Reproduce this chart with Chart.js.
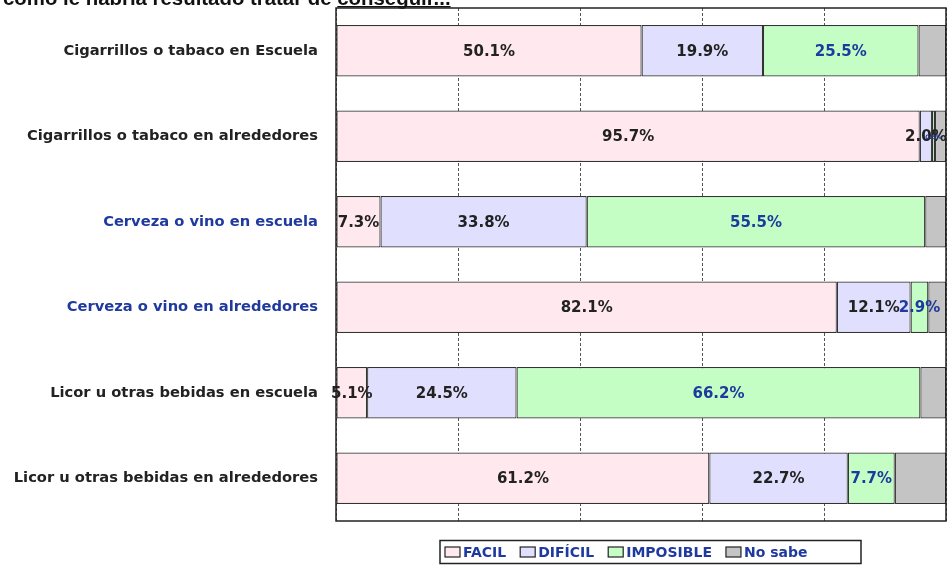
<!DOCTYPE html>
<html>
<head>
<meta charset="utf-8">
<script src="https://cdn.jsdelivr.net/npm/chart.js@4"></script>
<style>
  html, body { margin: 0; padding: 0; background: #fff; }
  #wrap { width: 948px; height: 575px; position: relative; }
</style>
</head>
<body>
<div id="wrap"><canvas id="chart" width="948" height="575"></canvas></div>
<script>
const categories = [
    'Cigarrillos o tabaco en Escuela',
    'Cigarrillos o tabaco en alrededores',
    'Cerveza o vino en escuela',
    'Cerveza o vino en alrededores',
    'Licor u otras bebidas en escuela',
    'Licor u otras bebidas en alrededores'
];
const categoryColors = ['#222222', '#222222', '#1f3a9e', '#1f3a9e', '#222222', '#222222'];

const seriesNames = ['FACIL', 'DIFÍCIL', 'IMPOSIBLE', 'No sabe'];
const facil = [50.1, 95.7, 7.3, 82.1, 5.1, 61.2];
const dificil = [19.9, 2.0, 33.8, 12.1, 24.5, 22.7];
const imposible = [25.5, 0.5, 55.5, 2.9, 66.2, 7.7];
const noSabe = [4.5, 1.8, 3.4, 2.9, 4.2, 8.4];

const fills = ['#ffe9ee', '#e0e0fe', '#c4fec4', '#c4c4c4'];
const labelColors = ['#222222', '#222222', '#1f3a9e', null];
const titleText = 'como le habría resultado tratar de ';
const titleUnderlined = 'conseguir...';

const boxPlugin = {
    id: 'box',
    beforeDraw(chart) {
        const ctx = chart.ctx;
        ctx.save();
        ctx.fillStyle = '#fff';
        ctx.fillRect(0, 0, chart.width, chart.height);
        // title, cut off at the top like the original
        ctx.font = 'bold 20.4px "Liberation Sans", Arial, sans-serif';
        ctx.fillStyle = '#111';
        ctx.textBaseline = 'alphabetic';
        ctx.fillText(titleText, 3, 5);
        const w1 = ctx.measureText(titleText).width;
        ctx.fillText(titleUnderlined, 3 + w1, 5);
        const w2 = ctx.measureText(titleUnderlined).width;
        ctx.fillRect(3 + w1, 6, w2, 1.5);
        ctx.restore();
    },
    afterDatasetsDraw(chart) {
        const ctx = chart.ctx;
        const a = chart.chartArea;
        ctx.save();
        // value labels
        ctx.textAlign = 'center';
        ctx.textBaseline = 'middle';
        chart.data.datasets.forEach((ds, di) => {
            if (!labelColors[di]) return;
            const meta = chart.getDatasetMeta(di);
            meta.data.forEach((bar, i) => {
                const v = ds.data[i];
                ctx.font = v < 1 ? 'bold 6px "DejaVu Sans", sans-serif' : 'bold 15px "DejaVu Sans", sans-serif';
                ctx.fillStyle = labelColors[di];
                ctx.fillText(v.toFixed(1) + '%', (bar.x + bar.base) / 2, bar.y + 1);
            });
        });
        // plot frame
        ctx.strokeStyle = '#222';
        ctx.lineWidth = 1.5;
        ctx.strokeRect(a.left, a.top, a.right - a.left, a.bottom - a.top);
        ctx.restore();
    },
    afterDraw(chart) {
        const ctx = chart.ctx;
        ctx.save();
        ctx.font = 'bold 14px "DejaVu Sans", sans-serif';
        const sw = 15, sh = 10, gap = 3, spacing = 14;
        const cy = 552;
        ctx.strokeStyle = '#222';
        ctx.lineWidth = 1.5;
        ctx.strokeRect(440, cy - 11.5, 421, 23);
        let x = 445;
        ctx.textBaseline = 'middle';
        seriesNames.forEach((n, i) => {
            ctx.fillStyle = fills[i];
            ctx.fillRect(x, cy - sh / 2, sw, sh);
            ctx.lineWidth = 1.2;
            ctx.strokeRect(x, cy - sh / 2, sw, sh);
            x += sw + gap;
            ctx.fillStyle = '#1f3a9e';
            ctx.fillText(n, x, cy + 1);
            x += ctx.measureText(n).width + spacing;
        });
        ctx.restore();
    }
};

const seriesData = [facil, dificil, imposible, noSabe];

new Chart(document.getElementById('chart'), {
    type: 'bar',
    data: {
        labels: categories,
        datasets: seriesNames.map((name, i) => ({
            label: name,
            data: seriesData[i],
            backgroundColor: fills[i],
            borderColor: '#333',
            borderWidth: 1.2,
            borderSkipped: false,
            categoryPercentage: 0.6,
            barPercentage: 1.0
        }))
    },
    options: {
        indexAxis: 'y',
        responsive: false,
        animation: false,
        layout: { padding: { top: 8, bottom: 54, left: 0, right: 2 } },
        scales: {
            x: {
                stacked: true,
                min: 0,
                max: 100,
                ticks: { display: false, stepSize: 20 },
                grid: { color: '#555', lineWidth: 1, drawTicks: false },
                border: { display: false, dash: [3, 2] }
            },
            y: {
                stacked: true,
                afterFit(scale) {
                    scale.width = 336;
                    scale.paddingTop = 0;
                    scale.paddingBottom = 0;
                },
                grid: { display: false, drawTicks: false },
                border: { display: false },
                ticks: {
                    padding: 18,
                    color: categoryColors,
                    font: { family: '"DejaVu Sans", sans-serif', size: 14.7, weight: 'bold' }
                }
            }
        },
        plugins: {
            legend: { display: false },
            tooltip: { enabled: false }
        }
    },
    plugins: [boxPlugin]
});
</script>
</body>
</html>
